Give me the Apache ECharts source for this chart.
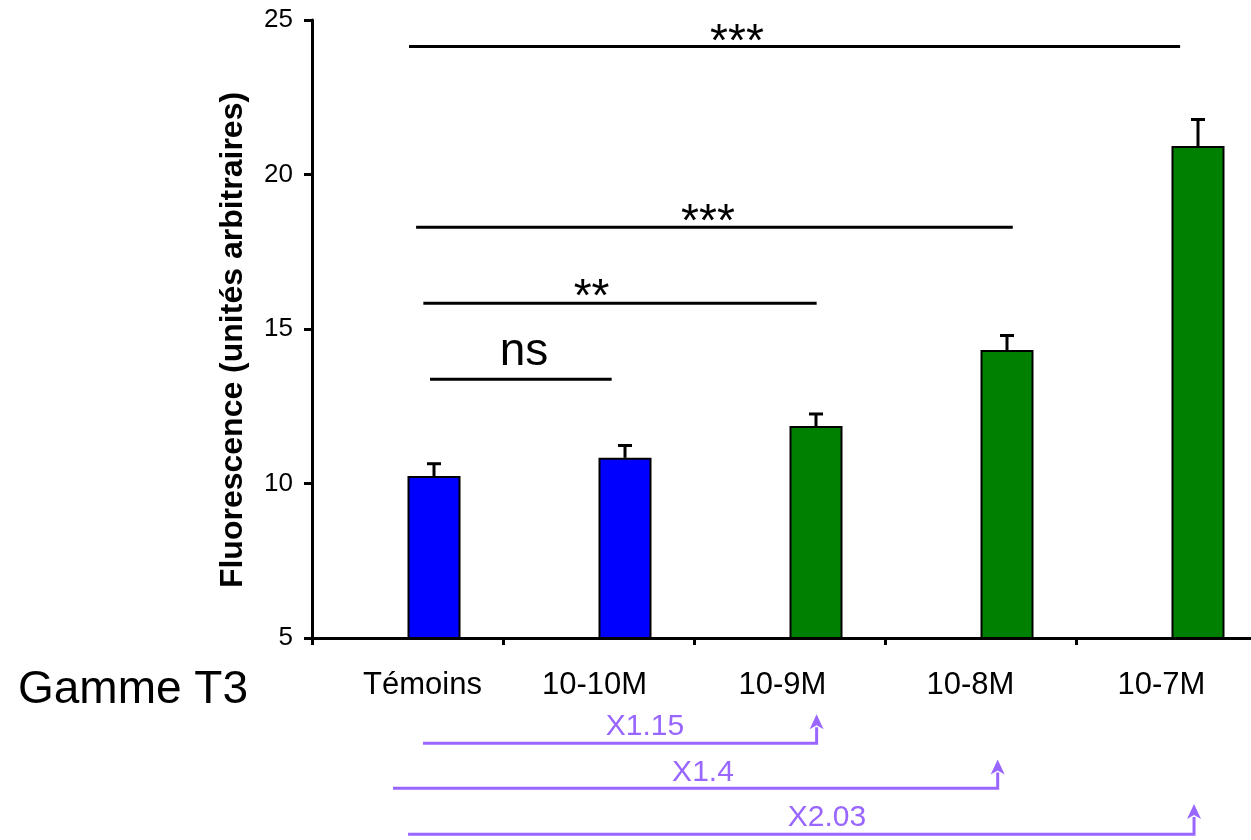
<!DOCTYPE html>
<html>
<head>
<meta charset="utf-8">
<script src="https://cdn.jsdelivr.net/npm/echarts@6/dist/echarts.min.js"></script>
<style>
html,body{margin:0;padding:0;background:#fff;}
#chart{width:1251px;height:840px;}
</style>
</head>
<body>
<div id="chart"></div>
<script>
// ---- data ----
const categories = ['Témoins', '10-10M', '10-9M', '10-8M', '10-7M'];
const means = [10.24, 10.83, 11.86, 14.32, 20.92];
const sems = [0.40, 0.40, 0.39, 0.47, 0.86];
const groups = ['control', 'control', 'T3', 'T3', 'T3'];
const yMin = 5, yMax = 25, yStep = 5;

// significance brackets (x in category units, y in axis units)
const sigText = ['***', '***', '**', 'ns'];
const sigStart = [0.508, 0.545, 0.583, 0.618];
const sigEnd = [4.545, 3.669, 2.642, 1.569];
const sigLevel = [24.14, 18.29, 15.83, 13.37];
const sigTextX = [2.225, 2.073, 1.464, 1.110];
const sigTextY = [24.25, 18.42, 16.0, 14.23];

// fold-change arrows under the axis
const foldText = ['X1.15', 'X1.4', 'X2.03'];
const foldStart = [0.581, 0.424, 0.503];
const foldEnd = [2.642, 3.590, 4.618];
const foldLevel = [1.59, 0.14, -1.35];
const foldTip = [2.53, 1.07, -0.37];
const foldTextX = [1.743, 2.047, 2.696];
const foldTextY = [2.13, 0.63, -0.83];

// ---- styles ----
const FONT = "'Liberation Sans', Arial, sans-serif";
const groupColor = { control: '#0000FF', T3: '#008000' };
const PURPLE = '#9966FF';
const BAR_W = 53;
// per-label horizontal padding [left, right] (label placement style)
const labelPad = [[30, 0], [0, 8], [0, 14], [0, 20], [0, 20]];

const chart = echarts.init(document.getElementById('chart'), null, { renderer: 'canvas' });

const option = {
  animation: false,
  backgroundColor: '#fff',
  title: {
    text: 'Gamme T3',
    left: 13,
    top: 662,
    textStyle: { fontFamily: FONT, fontSize: 46, fontWeight: 'normal', color: '#000' }
  },
  grid: { left: 312, top: 20, width: 955, height: 618, containLabel: false, outerBoundsMode: 'none' },
  xAxis: [
    {
      type: 'category',
      data: categories.map((c, i) => ({
        value: c,
        textStyle: { padding: [0, labelPad[i][1], 0, labelPad[i][0]] }
      })),
      axisLine: { lineStyle: { color: '#000', width: 3 } },
      axisTick: { show: true, length: 7, lineStyle: { color: '#000', width: 3 } },
      axisLabel: { color: '#000', fontFamily: FONT, fontSize: 31, margin: 32 }
    },
    { type: 'value', min: 0, max: 5, show: false }
  ],
  yAxis: {
    type: 'value',
    min: yMin, max: yMax, interval: yStep,
    name: 'Fluorescence (unités arbitraires)',
    nameLocation: 'middle',
    nameRotate: 90,
    nameGap: 63,
    nameTextStyle: { fontFamily: FONT, fontSize: 32, fontWeight: 'bold', color: '#000', padding: [0, 22, 0, 0] },
    axisLine: { show: true, lineStyle: { color: '#000', width: 3 } },
    axisTick: { show: true, length: 8, lineStyle: { color: '#000', width: 3 } },
    axisLabel: { color: '#000', fontFamily: FONT, fontSize: 26, margin: 19 },
    splitLine: { show: false }
  },
  series: [
    {
      type: 'bar',
      name: 'spacer',
      data: categories.map(() => '-'),
      barWidth: BAR_W,
      barGap: '0%',
      silent: true
    },
    {
      type: 'bar',
      name: 'Fluorescence',
      data: means.map((v, i) => ({
        value: v,
        itemStyle: { color: groupColor[groups[i]] }
      })),
      barWidth: BAR_W,
      barGap: '0%',
      itemStyle: { borderColor: '#000', borderWidth: 2 },
      z: 3
    },
    {
      type: 'custom',
      name: 'errors',
      xAxisIndex: 0,
      data: means.map((v, i) => [i, v, v + sems[i]]),
      z: 4,
      renderItem: function (params, api) {
        const layout = api.barLayout({ barWidth: BAR_W, barGap: '0%', count: 2 });
        const base = api.coord([api.value(0), api.value(1)]);
        const top = api.coord([api.value(0), api.value(2)]);
        const x = base[0] + layout[1].offsetCenter;
        return {
          type: 'group',
          children: [
            { type: 'line', shape: { x1: x, y1: base[1], x2: x, y2: top[1] }, style: { stroke: '#000', lineWidth: 3 } },
            { type: 'line', shape: { x1: x - 7, y1: top[1], x2: x + 7, y2: top[1] }, style: { stroke: '#000', lineWidth: 3 } }
          ]
        };
      }
    },
    {
      type: 'custom',
      name: 'significance',
      xAxisIndex: 1,
      clip: false,
      data: sigText.map((t, i) => [sigStart[i], sigEnd[i], sigLevel[i], sigTextX[i], sigTextY[i]]),
      z: 5,
      renderItem: function (params, api) {
        const i = params.dataIndex;
        const p0 = api.coord([api.value(0), api.value(2)]);
        const p1 = api.coord([api.value(1), api.value(2)]);
        const t = api.coord([api.value(3), api.value(4)]);
        return {
          type: 'group',
          children: [
            { type: 'line', shape: { x1: p0[0], y1: p0[1], x2: p1[0], y2: p1[1] }, style: { stroke: '#000', lineWidth: 3 } },
            { type: 'text', x: t[0], y: t[1], style: {
                text: sigText[i], fill: '#000', fontFamily: FONT,
                fontSize: 46, align: 'center', verticalAlign: 'middle' } }
          ]
        };
      }
    },
    {
      type: 'custom',
      name: 'fold',
      xAxisIndex: 1,
      clip: false,
      data: foldText.map((t, i) => [foldStart[i], foldEnd[i], foldLevel[i], foldTip[i], foldTextX[i], foldTextY[i]]),
      z: 5,
      renderItem: function (params, api) {
        const i = params.dataIndex;
        const p0 = api.coord([api.value(0), api.value(2)]);
        const p1 = api.coord([api.value(1), api.value(2)]);
        const tip = api.coord([api.value(1), api.value(3)]);
        const t = api.coord([api.value(4), api.value(5)]);
        const hw = 7, hh = 15;
        return {
          type: 'group',
          children: [
            { type: 'polyline', shape: { points: [[p0[0], p0[1]], [p1[0], p1[1]], [tip[0], tip[1] + hh - 2]] },
              style: { stroke: PURPLE, lineWidth: 3, fill: null } },
            { type: 'polygon', shape: { points: [[tip[0], tip[1]], [tip[0] - hw, tip[1] + hh], [tip[0], tip[1] + hh - 4], [tip[0] + hw, tip[1] + hh]] },
              style: { fill: PURPLE } },
            { type: 'text', x: t[0], y: t[1], style: {
                text: foldText[i], fill: PURPLE, fontFamily: FONT, fontSize: 30,
                align: 'center', verticalAlign: 'middle' } }
          ]
        };
      }
    }
  ]
};

chart.setOption(option);
</script>
</body>
</html>
